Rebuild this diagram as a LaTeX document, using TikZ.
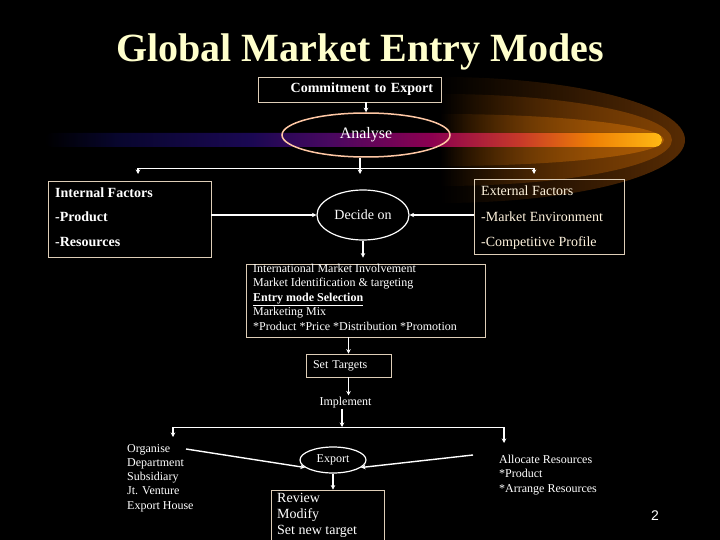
\documentclass[tikz,border=0pt]{standalone}
\usepackage{fontspec}
\setmainfont{Liberation Serif}
\setsansfont{Liberation Sans}
\usetikzlibrary{arrows.meta, shapes.geometric, fadings, calc}
\definecolor{slidecream}{RGB}{255,255,204}
\definecolor{extcream}{RGB}{255,244,222}
\definecolor{boxtan}{RGB}{222,206,184}
\definecolor{analysepink}{RGB}{255,200,165}
\definecolor{glowdark}{RGB}{88,44,4}
\definecolor{glowmid}{RGB}{128,66,4}
\definecolor{glowlight}{RGB}{172,92,5}
\definecolor{streaka}{RGB}{8,6,46}
\definecolor{streakb}{RGB}{26,8,82}
\definecolor{streakc}{RGB}{72,8,96}
\definecolor{streakd}{RGB}{140,0,80}
\definecolor{streake}{RGB}{200,58,40}
\definecolor{streakf}{RGB}{238,128,5}
\definecolor{streakg}{RGB}{255,185,20}
\pgfdeclarehorizontalshading{streakshade}{100bp}{color(0bp)=(black); color(25bp)=(black);
  color(31bp)=(streaka); color(41.7bp)=(streakb); color(48bp)=(streakc); color(56.3bp)=(streakd);
  color(63.6bp)=(streake); color(69.3bp)=(streakf); color(75bp)=(streakg); color(100bp)=(streakg)}
\tikzfading[name=glowfade, left color=transparent!100, middle color=transparent!30, right color=transparent!0]
\tikzset{
  slidetext/.style={text=white, inner sep=0pt},
  listtext/.style={slidetext, anchor=base west},
  ptxii/.style={font=\fontsize{12}{14}\selectfont},
  ptxiv/.style={font=\fontsize{14}{16}\selectfont},
  framebox/.style={draw=boxtan, line width=0.8pt, inner sep=0pt},
  ringnode/.style={ellipse, draw=white, line width=1.2pt, inner sep=0pt, text=white},
  conn/.style={draw=white, line width=1.4pt, -{Stealth[length=4.5pt,width=4.5pt]}},
  splitline/.style={draw=white, line width=0.9pt}
}

\begin{document}
\begin{tikzpicture}[x=1pt, y=-1pt]
		\useasboundingbox (0,0) rectangle (720,540);
		\fill[black] (0,0) rectangle (720,540);
		\clip (0,0) rectangle (720,540);
		\foreach \ry/\rx/\col in {63/245/glowdark, 46/232/glowmid, 26/224/glowlight}
		  \fill[\col, path fading=glowfade] (440,140-\ry)
		    .. controls (440+0.5523*\rx,140-\ry) and (440+\rx,140-0.5523*\ry) .. (440+\rx,140)
		    .. controls (440+\rx,140+0.5523*\ry) and (440+0.5523*\rx,140+\ry) .. (440,140+\ry) -- cycle;
		\fill[shading=streakshade, rounded corners=7pt] (45,133) rectangle (662,147);

		\node[slidetext, text=slidecream, anchor=base, font=\bfseries\fontsize{40}{44}\selectfont] (title) at (360,62) {Global Market Entry Modes};

		\node[framebox, minimum width=183pt, minimum height=25pt, text width=167pt, align=right, inner xsep=8pt,
		  text=white, font=\bfseries\fontsize{14}{16}\selectfont] (commit) at (349.5,89.5) {Commitment to Export};
		\node[ringnode, draw=analysepink, line width=1.5pt, minimum width=168pt, minimum height=44pt,
		  font=\fontsize{16}{18}\selectfont] (analyse) at (366,135) {Analyse};
		\draw[conn] (analyse.north |- commit.south) -- (analyse.north);

		\coordinate (forkL) at (138,168);
		\coordinate (forkR) at (534,168);
		\coordinate (forkM) at (360,174);
		\coordinate (forkLtip) at (138,174);
		\coordinate (forkRtip) at (534,174);
		\draw[splitline] (forkL) -- (forkR);
		\draw[conn] (analyse.south -| forkM) -- (forkM);
		\draw[conn] (forkL) -- (forkLtip);
		\draw[conn] (forkR) -- (forkRtip);

		\node[framebox, minimum width=163pt, minimum height=76pt] (internal) at (129.5,219) {};
		\foreach \y/\txt [count=\i] in {197/Internal Factors, 222/-Product, 247/-Resources}
		  \node[listtext, font=\bfseries\fontsize{14}{16}\selectfont] (int\i) at (55,\y) {\txt};
		\node[framebox, minimum width=150pt, minimum height=75pt] (external) at (549,216.5) {};
		\foreach \y/\txt [count=\i] in {196/External Factors, 221.5/-Market Environment, 246.5/-Competitive Profile}
		  \node[listtext, ptxiv, text=extcream] (ext\i) at (481,\y) {\txt};
		\node[ringnode, ptxiv, minimum width=92pt, minimum height=50pt] (decide) at (363,215) {Decide on};
		\draw[conn] (internal.east |- decide.west) -- (decide.west);
		\draw[conn] (external.west |- decide.east) -- (decide.east);

		\node[framebox, minimum width=239pt, minimum height=73pt] (market) at (365.5,300.5) {};
		\foreach \y/\txt [count=\i] in {272/International Market Involvement, 286.5/Market Identification \& targeting,
		    301/\underline{\textbf{Entry mode Selection}}, 315.5/Marketing Mix, 330/*Product *Price *Distribution *Promotion}
		  \node[listtext, ptxii] (mkt\i) at (253,\y) {\txt};
		\draw[conn, shorten >=6pt] (decide.south) -- (decide.south |- market.north);

		\node[framebox, ptxii, text=white, minimum width=85pt, minimum height=23pt, text width=71pt, align=left,
		  inner xsep=7pt] (settargets) at (348.5,365.5) {Set Targets};
		\draw[conn] (market.south -| settargets.north) -- (settargets.north);
		\node[slidetext, ptxii, anchor=base, inner sep=1pt] (implement) at (345.5,405) {Implement};
		\draw[conn] (settargets.south) -- (settargets.south |- implement.north);

		\coordinate (forkB) at (342,427);
		\coordinate (forkBL) at (173,427);
		\coordinate (forkBR) at (504,427);
		\coordinate (forkBLtip) at (173,437);
		\coordinate (forkBRtip) at (504,443);
		\draw[conn] (implement.south -| forkB) -- (forkB);
		\draw[splitline] (forkBL) -- (forkBR);
		\draw[conn] (forkBL) -- (forkBLtip);
		\draw[conn] (forkBR) -- (forkBRtip);

		\foreach \y/\txt [count=\i] in {452/Organise, 466.3/Department, 480.6/Subsidiary, 494.9/Jt. Venture, 509.2/Export House}
		  \node[listtext, ptxii] (org\i) at (127,\y) {\txt};
		\foreach \y/\txt [count=\i] in {463/Allocate Resources, 477.5/*Product, 492/*Arrange Resources}
		  \node[listtext, ptxii] (alloc\i) at (499,\y) {\txt};

		\node[ringnode, ptxii, minimum width=66pt, minimum height=26pt] (export) at (333,460) {Export};
		\coordinate (orgfrom) at (186,449);
		\coordinate (allocfrom) at (473,455);
		\draw[conn] (orgfrom) -- (export.195);
		\draw[conn] (allocfrom) -- (export.345);

		\node[framebox, minimum width=113pt, minimum height=60pt] (review) at (327.5,520) {};
		\draw[conn] (export.south) -- (export.south |- review.north);
		\foreach \y/\txt [count=\i] in {502/Review, 518/Modify, 534/Set new target}
		  \node[listtext, ptxiv] (rev\i) at (277,\y) {\txt};

		\node[slidetext, anchor=base, font=\sffamily\fontsize{14}{16}\selectfont] (pagenum) at (655,520) {2};
	\end{tikzpicture}
\end{document}
